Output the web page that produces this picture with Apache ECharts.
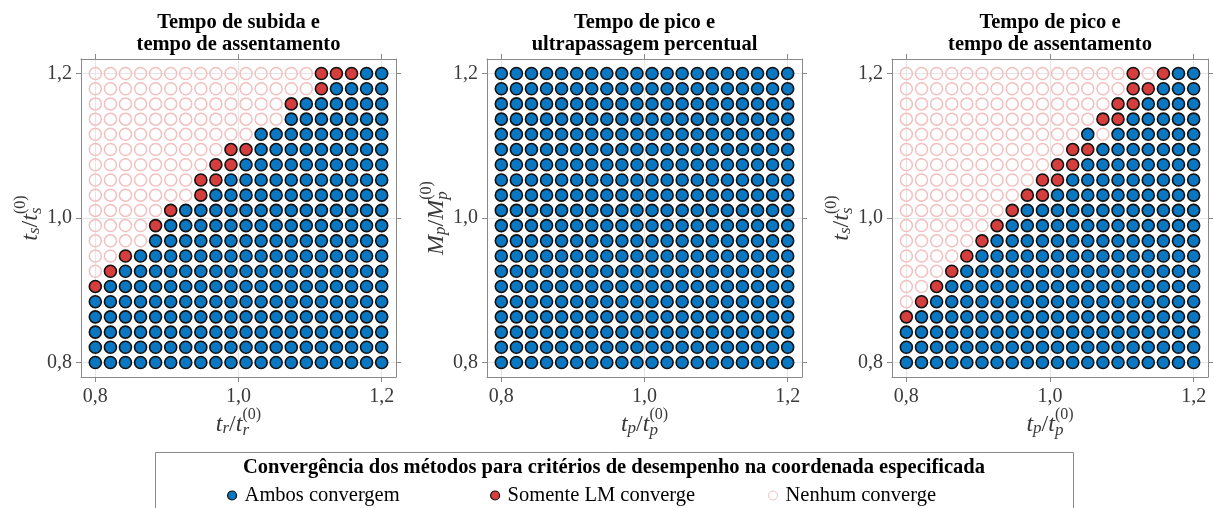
<!DOCTYPE html>
<html>
<head>
<meta charset="utf-8">
<script src="https://cdn.jsdelivr.net/npm/echarts@6/dist/echarts.min.js"></script>
<style>
  html, body { margin: 0; padding: 0; background: #ffffff; }
  #chart { width: 1214px; height: 508px; }
</style>
</head>
<body>
<div id="chart"></div>
<script>
// Normalised grid of the design space (20 points from 0.8 to 1.2 on each axis)
const ratioSteps = [0.8, 0.8211, 0.8421, 0.8632, 0.8842, 0.9053, 0.9263, 0.9474, 0.9684, 0.9895,
                    1.0105, 1.0316, 1.0526, 1.0737, 1.0947, 1.1158, 1.1368, 1.1579, 1.1789, 1.2];

// Axis ticks
const tickValues = [0.8, 1.0, 1.2];

// Convergence outcome at each coordinate, one string per row from y = 1.2 (top) down to y = 0.8.
// A = both methods converge, L = only LM converges, N = neither converges
const statusRiseSettling = [
  'NNNNNNNNNNNNNNNLLLAA',
  'NNNNNNNNNNNNNNNLAAAA',
  'NNNNNNNNNNNNNLAAAAAA',
  'NNNNNNNNNNNNNAAAAAAA',
  'NNNNNNNNNNNAAAAAAAAA',
  'NNNNNNNNNLLAAAAAAAAA',
  'NNNNNNNNLLAAAAAAAAAA',
  'NNNNNNNLLAAAAAAAAAAA',
  'NNNNNNNLAAAAAAAAAAAA',
  'NNNNNLAAAAAAAAAAAAAA',
  'NNNNLAAAAAAAAAAAAAAA',
  'NNNNAAAAAAAAAAAAAAAA',
  'NNLAAAAAAAAAAAAAAAAA',
  'NLAAAAAAAAAAAAAAAAAA',
  'LAAAAAAAAAAAAAAAAAAA',
  'AAAAAAAAAAAAAAAAAAAA',
  'AAAAAAAAAAAAAAAAAAAA',
  'AAAAAAAAAAAAAAAAAAAA',
  'AAAAAAAAAAAAAAAAAAAA',
  'AAAAAAAAAAAAAAAAAAAA'
];

const statusPeakOvershoot = [
  'AAAAAAAAAAAAAAAAAAAA',
  'AAAAAAAAAAAAAAAAAAAA',
  'AAAAAAAAAAAAAAAAAAAA',
  'AAAAAAAAAAAAAAAAAAAA',
  'AAAAAAAAAAAAAAAAAAAA',
  'AAAAAAAAAAAAAAAAAAAA',
  'AAAAAAAAAAAAAAAAAAAA',
  'AAAAAAAAAAAAAAAAAAAA',
  'AAAAAAAAAAAAAAAAAAAA',
  'AAAAAAAAAAAAAAAAAAAA',
  'AAAAAAAAAAAAAAAAAAAA',
  'AAAAAAAAAAAAAAAAAAAA',
  'AAAAAAAAAAAAAAAAAAAA',
  'AAAAAAAAAAAAAAAAAAAA',
  'AAAAAAAAAAAAAAAAAAAA',
  'AAAAAAAAAAAAAAAAAAAA',
  'AAAAAAAAAAAAAAAAAAAA',
  'AAAAAAAAAAAAAAAAAAAA',
  'AAAAAAAAAAAAAAAAAAAA',
  'AAAAAAAAAAAAAAAAAAAA'
];

const statusPeakSettling = [
  'NNNNNNNNNNNNNNNLNLAA',
  'NNNNNNNNNNNNNNNLLAAA',
  'NNNNNNNNNNNNNNLLAAAA',
  'NNNNNNNNNNNNNLLAAAAA',
  'NNNNNNNNNNNNANAAAAAA',
  'NNNNNNNNNNNLLAAAAAAA',
  'NNNNNNNNNNLLAAAAAAAA',
  'NNNNNNNNNLLAAAAAAAAA',
  'NNNNNNNNLLAAAAAAAAAA',
  'NNNNNNNLAAAAAAAAAAAA',
  'NNNNNNLAAAAAAAAAAAAA',
  'NNNNNLAAAAAAAAAAAAAA',
  'NNNNLAAAAAAAAAAAAAAA',
  'NNNLAAAAAAAAAAAAAAAA',
  'NNLAAAAAAAAAAAAAAAAA',
  'NLAAAAAAAAAAAAAAAAAA',
  'LAAAAAAAAAAAAAAAAAAA',
  'AAAAAAAAAAAAAAAAAAAA',
  'AAAAAAAAAAAAAAAAAAAA',
  'AAAAAAAAAAAAAAAAAAAA'
];

const panelStatus = [statusRiseSettling, statusPeakOvershoot, statusPeakSettling];

const panelTitles = [
  'Tempo de subida e\ntempo de assentamento',
  'Tempo de pico e\nultrapassagem percentual',
  'Tempo de pico e\ntempo de assentamento'
];

// Axis labels as rich text: italic symbol, subscript, superscript "(0)"
const xNames = [
  '{i|t}{s|r}{n|/}{i|t}{d|r}{u|(0)}',
  '{i|t}{s|p}{n|/}{i|t}{d|p}{u2|(0)}',
  '{i|t}{s|p}{n|/}{i|t}{d|p}{u2|(0)}'
];
const yNames = [
  '{i|t}{s|s}{n|/}{i|t}{d|s}{u|(0)}',
  '{i|M}{s|p}{n|/}{i|M}{d|p}{u2|(0)}',
  '{i|t}{s|s}{n|/}{i|t}{d|s}{u|(0)}'
];

const legendTitle = 'Convergência dos métodos para critérios de desempenho na coordenada especificada';
const outcomeNames = { A: 'Ambos convergem', L: 'Somente LM converge', N: 'Nenhum converge' };

// ---- styling / layout ----
const SERIF = "'Liberation Serif', 'Times New Roman', serif";
const panelLeft = [81, 487, 892];
const panelWidth = [315, 315, 316];
const panelTop = 59;
const panelHeight = 318;
const axisMin = 0.78, axisMax = 1.22;
const frameColor = '#8a8a8a';
const labelColor = '#3a3a3a';

const outcomeStyles = {
  A: { color: '#0a77c2', borderColor: '#111111', borderWidth: 1.6, opacity: 1 },
  L: { color: '#d63e3e', borderColor: '#111111', borderWidth: 1.6, opacity: 1 },
  N: { color: 'rgba(255,255,255,0)', borderColor: '#f2c0c0', borderWidth: 1.5, opacity: 1 }
};

const nameRich = {
  i: { fontFamily: SERIF, fontStyle: 'italic', fontSize: 24, color: labelColor },
  n: { fontFamily: SERIF, fontSize: 24, color: labelColor },
  s: { fontFamily: SERIF, fontStyle: 'italic', fontSize: 17, color: labelColor, padding: [7, 0, 0, 0] },
  d: { fontFamily: SERIF, fontStyle: 'italic', fontSize: 17, color: labelColor, padding: [11, 0, 0, 0] },
  u: { fontFamily: SERIF, fontSize: 16, color: labelColor, padding: [0, 0, 20, -6.5] },
  u2: { fontFamily: SERIF, fontSize: 16, color: labelColor, padding: [0, 0, 20, -8.5] }
};

const tickFormatter = v => v.toFixed(1).replace('.', ',');

const grids = [], xAxes = [], yAxes = [], series = [], titles = [];

panelStatus.forEach((rows, p) => {
  grids.push({ left: panelLeft[p], top: panelTop, width: panelWidth[p], height: panelHeight,
               outerBoundsMode: 'none', containLabel: false });

  const baseAxis = {
    gridIndex: p, type: 'value', min: axisMin, max: axisMax,
    axisLine: { show: true, onZero: false, lineStyle: { color: frameColor, width: 1 } },
    axisTick: { show: true, inside: false, length: 5, customValues: tickValues,
                lineStyle: { color: frameColor, width: 1 } }
  };

  // bottom x axis with labels and grid lines
  xAxes.push(Object.assign({}, baseAxis, {
    position: 'bottom',
    axisLabel: { show: true, customValues: tickValues, formatter: tickFormatter,
                 fontFamily: SERIF, fontSize: 20, color: labelColor, margin: 10 },
    splitLine: { show: true, lineStyle: { color: '#e6e6e6', width: 1 } },
    name: xNames[p], nameLocation: 'middle', nameGap: 30, nameMoveOverlap: false,
    nameTextStyle: { rich: nameRich }
  }));
  // top spine
  xAxes.push(Object.assign({}, baseAxis, {
    position: 'top', axisLabel: { show: false }, splitLine: { show: false }
  }));

  yAxes.push(Object.assign({}, baseAxis, {
    position: 'left',
    axisLabel: { show: true, customValues: tickValues, formatter: tickFormatter,
                 fontFamily: SERIF, fontSize: 20, color: labelColor, margin: 9 },
    splitLine: { show: true, lineStyle: { color: '#e6e6e6', width: 1 } },
    name: yNames[p], nameLocation: 'middle', nameGap: 32, nameRotate: 90, nameMoveOverlap: false,
    nameTextStyle: { rich: nameRich }
  }));
  // right spine
  yAxes.push(Object.assign({}, baseAxis, {
    position: 'right', axisLabel: { show: false }, splitLine: { show: false }
  }));

  ['A', 'L', 'N'].forEach(code => {
    const pts = [];
    rows.forEach((row, r) => {
      const yVal = ratioSteps[ratioSteps.length - 1 - r];
      for (let c = 0; c < row.length; c++) {
        if (row[c] === code) pts.push([ratioSteps[c], yVal]);
      }
    });
    series.push({
      type: 'scatter', name: outcomeNames[code],
      xAxisIndex: p * 2, yAxisIndex: p * 2,
      symbol: 'circle', symbolSize: 12,
      itemStyle: Object.assign({}, outcomeStyles[code]),
      emphasis: { disabled: true },
      data: pts
    });
  });

  titles.push({
    text: panelTitles[p], left: panelLeft[p] + panelWidth[p] / 2, top: 12,
    textAlign: 'center', padding: 0,
    textStyle: { fontFamily: SERIF, fontWeight: 'bold', fontSize: 20.5, lineHeight: 22, color: '#000' }
  });
});

titles.push({
  text: legendTitle, left: 614, top: 457, textAlign: 'center', padding: 0,
  textStyle: { fontFamily: SERIF, fontWeight: 'bold', fontSize: 20.5, lineHeight: 22, color: '#000' }
});

const legendLefts = [227, 490, 768];
const legends = ['A', 'L', 'N'].map((code, k) => ({
  data: [outcomeNames[code]], left: legendLefts[k], top: 485, padding: 0,
  orient: 'horizontal', icon: 'circle', itemWidth: 9, itemHeight: 9,
  selectedMode: false,
  itemStyle: { borderWidth: code === 'N' ? 1 : 1.2 },
  textStyle: { fontFamily: SERIF, fontSize: 20.5, color: '#000', padding: [0, 0, 0, 3] }
}));

const chart = echarts.init(document.getElementById('chart'), null, { renderer: 'canvas' });
chart.setOption({
  animation: false,
  backgroundColor: '#ffffff',
  title: titles,
  grid: grids,
  xAxis: xAxes,
  yAxis: yAxes,
  legend: legends,
  tooltip: { show: false },
  graphic: [{
    type: 'rect', silent: true, z: -1,
    shape: { x: 155.5, y: 452.5, width: 918, height: 80 },
    style: { fill: 'none', stroke: '#8a8a8a', lineWidth: 1 }
  }],
  series: series
});
</script>
</body>
</html>
